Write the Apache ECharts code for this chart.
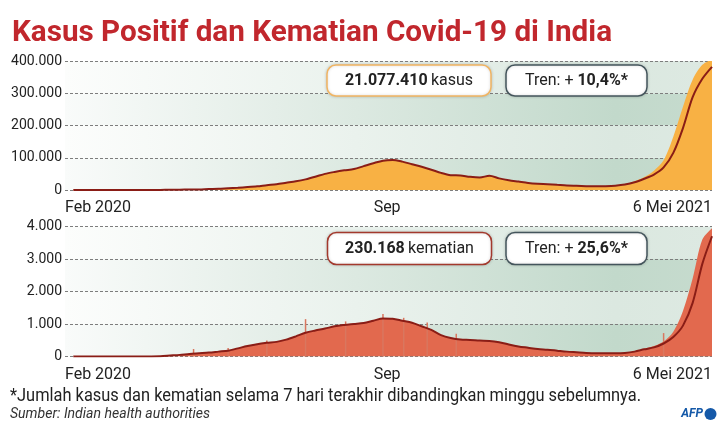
<!DOCTYPE html>
<html><head><meta charset="utf-8">
<script src="https://cdn.jsdelivr.net/npm/echarts@6/dist/echarts.min.js"></script>
<style>html,body{margin:0;padding:0;background:#fff}#c{width:724px;height:438px}</style>
</head><body><div id="c"></div>
<script>
// day offsets from 30 Jan 2020 (weekly)
const days = [0,7,14,21,28,35,42,49,56,63,70,77,84,91,98,105,112,119,126,133,140,147,154,161,168,175,182,189,196,203,210,217,224,231,238,245,252,259,266,273,280,287,294,301,308,315,322,329,336,343,350,357,364,371,378,385,392,399,406,413,420,427,434,441,448,455,462];
const casesAvg = [0,0,0,0,0,10,20,40,100,350,650,950,1400,1800,2900,3700,5400,6900,9000,11500,15000,18000,22500,27000,33000,41000,50000,56000,61000,65000,74000,83000,91000,93000,88000,80000,72000,63000,53000,46000,45000,41000,39000,44000,36000,30000,26000,22000,19500,18000,16000,14000,13000,12000,11500,12000,13500,17000,24000,35000,48000,70000,115000,192000,288000,345000,382000];
const casesDaily = [0,0,0,0,0,10,20,40,100,350,650,950,1400,1800,2900,3700,5400,6900,9000,11500,15000,18000,22500,27000,33000,41000,50000,56000,61000,65000,74000,83000,91000,93000,88000,80000,72000,63000,53000,46000,45000,41000,39000,44000,36000,30000,26000,22000,19500,18000,16000,14000,13000,12000,11500,12000,13500,17000,27000,40000,60000,92000,165000,258000,342000,388000,405000];
const deathsAvg = [0,0,0,0,0,0,0,1,3,10,30,50,80,100,120,150,180,250,320,380,420,450,520,620,730,800,860,930,970,1000,1030,1100,1170,1160,1100,1040,930,820,660,570,520,510,490,480,440,370,310,270,230,210,180,150,130,110,100,100,100,110,150,220,280,400,600,950,1650,2850,3700];
const deathsDaily = [0,0,0,0,0,0,0,1,3,10,30,50,80,100,120,150,180,250,320,380,420,450,520,620,730,800,860,930,970,1000,1030,1100,1170,1160,1100,1040,930,820,660,570,520,510,490,480,440,370,310,270,230,210,180,150,130,110,100,100,100,110,160,240,320,460,760,1400,2400,3600,3950];
const spikeDays = [87,112,140,168,197,224,239,256,277,427];
const spikeDeaths = [230,260,490,1150,1080,1310,1190,1050,700,720];
const xLabelDays = [-6,227,462];
const xLabelTexts = ['Feb 2020','Sep','6 Mei 2021'];
const titleText = 'Kasus Positif dan Kematian Covid-19 di India';
const noteText = '*Jumlah kasus dan kematian selama 7 hari terakhir dibandingkan minggu sebelumnya.';
const sourceText = 'Sumber: Indian health authorities';
const totalCases = '21.077.410';
const totalDeaths = '230.168';
const trendCases = '10,4%*';
const trendDeaths = '25,6%*';

const ORANGE = '#f8b144', SALMON = '#e2694e', LINE = '#8a1d16';
const fmt = v => String(v).replace(/\B(?=(\d{3})+(?!\d))/g, '.');
const lg = (stops) => new echarts.graphic.LinearGradient(0,0,1,0, stops.map(s=>({offset:s[0],color:s[1]})));
const darkBand = lg([[0,'#f9fbfa'],[0.45,'#dce9e1'],[0.85,'#c2d9cb'],[1,'#c6dbce']]);
const lightBand = lg([[0,'#fcfdfc'],[0.45,'#eaf2ed'],[0.85,'#dbe8e0'],[1,'#dde9e2']]);

const mctx = document.createElement('canvas').getContext('2d');
function fitScale(text, font, target){ mctx.font = font; return target / mctx.measureText(text).width; }

function xAxis(gi){
  return {gridIndex:gi,type:'value',min:-6,max:462,
    axisLine:{show:false},axisTick:{show:false},splitLine:{show:false},
    axisLabel:{customValues:xLabelDays,formatter:v=>xLabelTexts[xLabelDays.indexOf(v)]||'',
      fontFamily:'Roboto',fontSize:16,color:'#222',margin:10,alignMinLabel:'left',alignMaxLabel:'right',showMinLabel:true,showMaxLabel:true}};
}
function yAxis(gi,max,interval){
  return {gridIndex:gi,type:'value',min:0,max:max,interval:interval,
    axisLine:{show:false},axisTick:{show:false},
    axisLabel:{formatter:fmt,fontFamily:'Roboto',fontSize:14,color:'#222',margin:3},
    splitLine:{show:true,lineStyle:{color:'#7d7d7d',width:1,type:[3,2]}},
    splitArea:{show:true,areaStyle:{color:[darkBand,lightBand]}}};
}
const pairs = (xs,ys)=>xs.map((d,i)=>[d,ys[i]]);

function box(x,y,w,h,stroke,text){
  return {type:'group',children:[
    {type:'rect',shape:{x:x,y:y,width:w,height:h,r:9},style:{fill:'#fff',stroke:stroke,lineWidth:1.5,shadowBlur:3,shadowColor:'rgba(0,0,0,0.18)'},z:10},
    {type:'text',x:x+w/2,y:y+h/2,z:11,style:{text:text,align:'center',verticalAlign:'middle',fill:'#222',
      rich:{b:{fontFamily:'Roboto',fontWeight:'bold',fontSize:16,fill:'#222'},n:{fontFamily:'Roboto',fontSize:16,fill:'#222'}}}}
  ]};
}
function fitText(text, x, y, target, size, weight, style, color){
  const font = style+' '+weight+' '+size+'px Roboto';
  return {type:'text',x:x,y:y,scaleX:fitScale(text,font,target),z:20,
    style:{text:text,x:0,y:0,align:'left',verticalAlign:'middle',fontFamily:'Roboto',fontSize:size,fontWeight:weight,fontStyle:style,fill:color}};
}

const chart = echarts.init(document.getElementById('c'),null,{renderer:'canvas'});
chart.setOption({
  animation:false,
  grid:[{left:65,right:12,top:61,height:129},{left:65,right:12,top:226.5,height:130}],
  xAxis:[xAxis(0),xAxis(1)],
  yAxis:[yAxis(0,400000,100000),yAxis(1,4000,1000)],
  series:[
    {type:'line',xAxisIndex:0,yAxisIndex:0,data:pairs(days,casesDaily),smooth:0.3,showSymbol:false,lineStyle:{width:0},areaStyle:{color:ORANGE,opacity:1},z:2},
    {type:'line',xAxisIndex:0,yAxisIndex:0,data:pairs(days,casesAvg),smooth:0.3,showSymbol:false,lineStyle:{width:2,color:LINE},z:3},
    {type:'line',xAxisIndex:1,yAxisIndex:1,data:pairs(days,deathsDaily),smooth:0.3,showSymbol:false,lineStyle:{width:0},areaStyle:{color:SALMON,opacity:1},z:2},
    {type:'bar',xAxisIndex:1,yAxisIndex:1,data:pairs(spikeDays,spikeDeaths),barWidth:1.5,itemStyle:{color:'#d9775f'},z:2},
    {type:'line',xAxisIndex:1,yAxisIndex:1,data:pairs(days,deathsAvg),smooth:0.3,showSymbol:false,lineStyle:{width:2,color:LINE},z:3}
  ],
  graphic:[
    fitText(titleText,12,34,600,29,'bold','normal','#c1272d'),
    box(327,65,164,31,'#f1b462','{b|'+totalCases+'} {n|kasus}'),
    box(506,65,141,31,'#44555c','{n|Tren: + }{b|'+trendCases+'}'),
    box(327.5,232.5,164,32,'#a3392d','{b|'+totalDeaths+'} {n|kematian}'),
    box(506,232.5,141,32,'#44555c','{n|Tren: + }{b|'+trendDeaths+'}'),
    fitText(noteText,10,396,631,18,'normal','normal','#222'),
    fitText(sourceText,10,414,200,14,'normal','italic','#333'),
    {type:'text',x:703,y:414,z:20,style:{text:'AFP',align:'right',verticalAlign:'middle',fontFamily:'Roboto',fontWeight:'bold',fontStyle:'italic',fontSize:12,fill:'#1559a8'}},
    {type:'circle',shape:{cx:710.5,cy:414,r:6},style:{fill:'#1559a8'}}
  ]
});
</script></body></html>
